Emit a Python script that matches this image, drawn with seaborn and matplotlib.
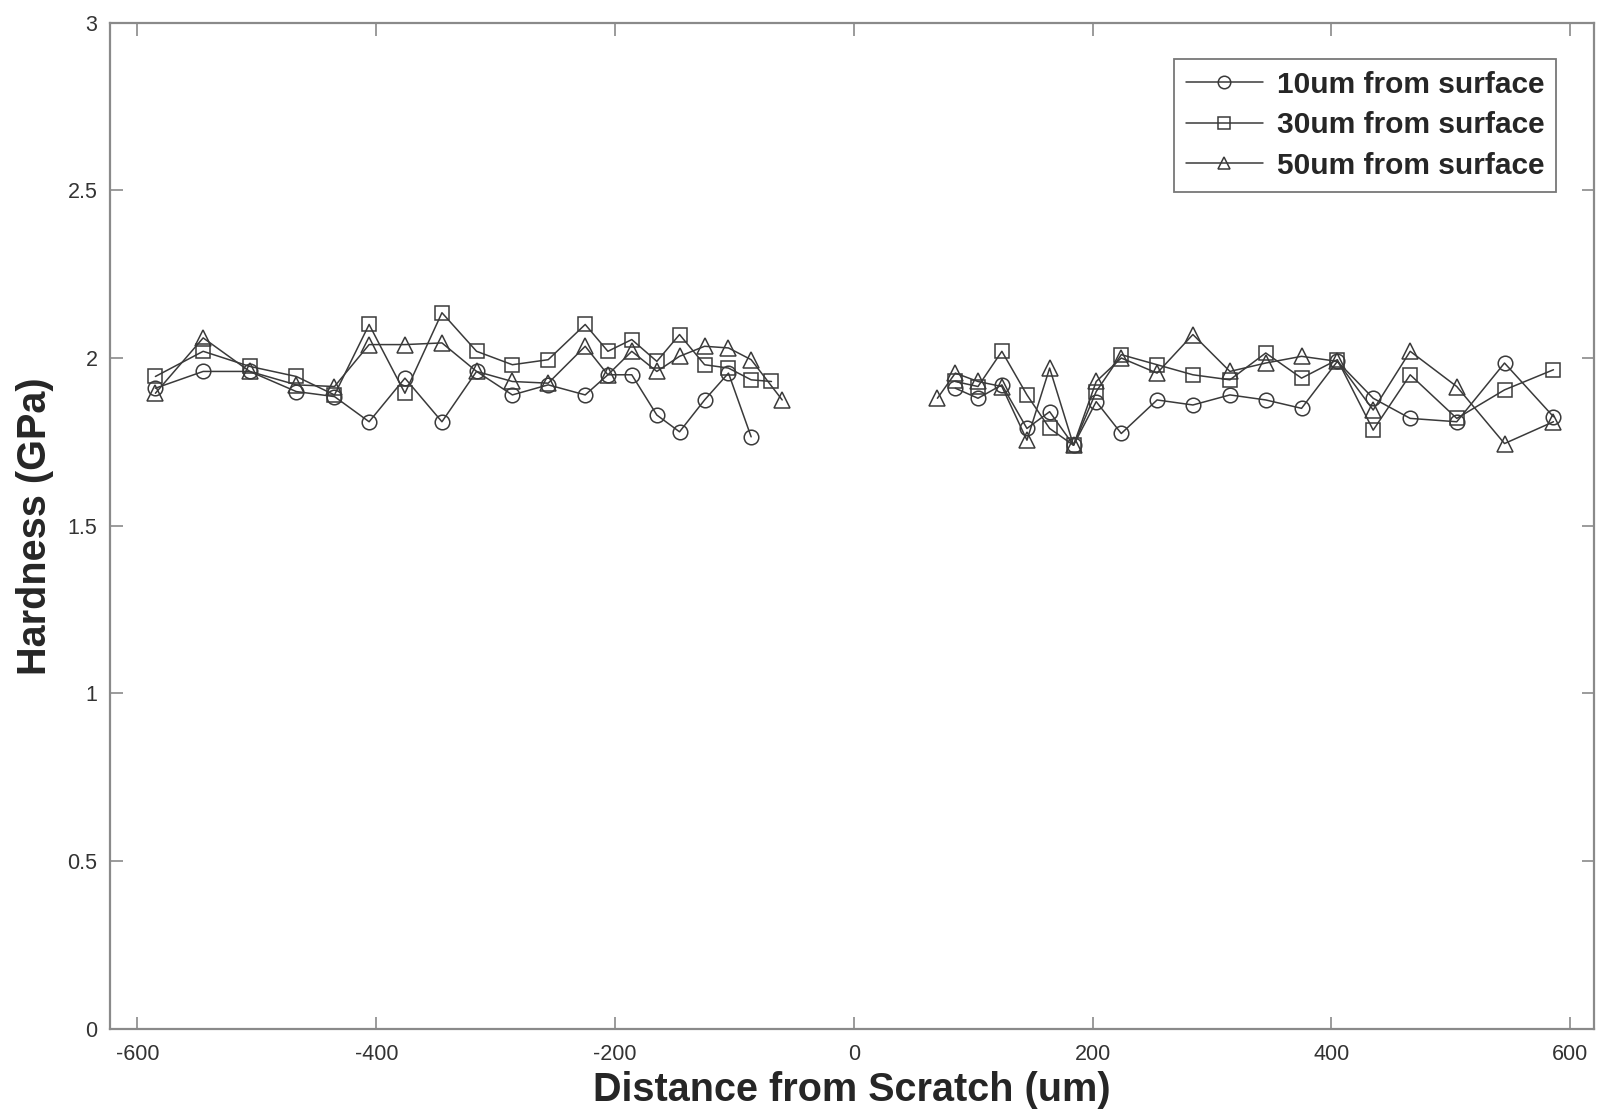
import matplotlib
matplotlib.use("Agg")
import matplotlib.pyplot as plt
import seaborn as sns
import pandas as pd

# ---- data ----
x_left_10 = [-585, -545, -506, -467, -435, -406, -376, -345, -316, -286, -256, -225, -206, -186, -165, -146, -125, -105, -86]
y_left_10 = [1.91, 1.96, 1.96, 1.90, 1.885, 1.81, 1.94, 1.81, 1.96, 1.89, 1.92, 1.89, 1.95, 1.95, 1.83, 1.78, 1.875, 1.955, 1.765]
x_right_10 = [85, 104, 124, 145, 164, 184, 203, 224, 254, 284, 315, 345, 375, 405, 435, 466, 505, 545, 586]
y_right_10 = [1.91, 1.88, 1.92, 1.79, 1.84, 1.74, 1.87, 1.775, 1.875, 1.86, 1.89, 1.875, 1.85, 1.99, 1.88, 1.82, 1.81, 1.985, 1.825]

x_left_30 = [-585, -545, -506, -467, -435, -406, -376, -345, -316, -286, -256, -225, -206, -186, -165, -146, -125, -105, -86, -69]
y_left_30 = [1.945, 2.02, 1.975, 1.945, 1.89, 2.10, 1.895, 2.135, 2.02, 1.98, 1.995, 2.10, 2.02, 2.055, 1.99, 2.07, 1.98, 1.97, 1.935, 1.93]
x_right_30 = [85, 104, 124, 145, 164, 184, 203, 224, 254, 284, 315, 345, 375, 405, 435, 466, 505, 545, 586]
y_right_30 = [1.93, 1.915, 2.02, 1.89, 1.79, 1.74, 1.90, 2.01, 1.98, 1.95, 1.935, 2.015, 1.94, 1.995, 1.785, 1.95, 1.82, 1.905, 1.965]

x_left_50 = [-585, -545, -506, -467, -435, -406, -376, -345, -316, -286, -256, -225, -206, -186, -165, -146, -125, -105, -86, -60]
y_left_50 = [1.895, 2.06, 1.96, 1.92, 1.915, 2.04, 2.04, 2.045, 1.96, 1.93, 1.925, 2.035, 1.95, 2.02, 1.96, 2.005, 2.035, 2.03, 1.995, 1.875]
x_right_50 = [70, 85, 104, 124, 145, 164, 184, 203, 224, 254, 284, 315, 345, 375, 405, 435, 466, 505, 545, 586]
y_right_50 = [1.88, 1.955, 1.93, 1.915, 1.755, 1.97, 1.74, 1.93, 2.0, 1.955, 2.07, 1.96, 1.985, 2.005, 1.99, 1.845, 2.02, 1.915, 1.745, 1.81]

labels = ["10um from surface", "30um from surface", "50um from surface"]
markers = ["o", "s", "^"]
x_ticks = [-600, -400, -200, 0, 200, 400, 600]
y_ticks = [0, 0.5, 1, 1.5, 2, 2.5, 3]
y_tick_labels = ["0", "0.5", "1", "1.5", "2", "2.5", "3"]

series = [
    (x_left_10, y_left_10, x_right_10, y_right_10),
    (x_left_30, y_left_30, x_right_30, y_right_30),
    (x_left_50, y_left_50, x_right_50, y_right_50),
]

sns.set_theme(style="white")
plt.rcParams["font.family"] = ["Liberation Sans", "DejaVu Sans"]

fig = plt.figure(figsize=(16.04, 11.16), dpi=100)
ax = fig.add_axes([0.0686, 0.078, 0.9252, 0.9018])

line_col = "#3a3a3a"
for (xl, yl, xr, yr), lab, mk in zip(series, labels, markers):
    for i, (xs, ys) in enumerate([(xl, yl), (xr, yr)]):
        df = pd.DataFrame({"x": xs, "y": ys})
        sns.lineplot(data=df, x="x", y="y", ax=ax, sort=False, estimator=None,
                     color=line_col, linewidth=1.1, marker=mk,
                     markersize=10.5 if mk != "^" else 11.5,
                     markerfacecolor="none", markeredgecolor=line_col,
                     markeredgewidth=1.1,
                     label=lab if i == 0 else None)

ax.set_xlim(-623, 620)
ax.set_ylim(0, 3)
ax.set_xticks(x_ticks)
ax.set_xticklabels([str(v) for v in x_ticks])
ax.set_yticks(y_ticks)
ax.set_yticklabels(y_tick_labels)

for s in ax.spines.values():
    s.set_color("#8a8a8a")
    s.set_linewidth(1.6)
    s.set_visible(True)

ax.tick_params(axis="both", direction="in", length=9, width=1.2, color="#8a8a8a",
               labelsize=15.5, labelcolor="#333333", top=True, right=True,
               bottom=True, left=True)
ax.tick_params(axis="x", pad=11)
ax.tick_params(axis="y", pad=9)

ax.set_xlabel("Distance from Scratch (um)", fontsize=28.5, fontweight="bold", labelpad=4)
ax.set_ylabel("Hardness (GPa)", fontsize=28.5, fontweight="bold", labelpad=10)

leg = ax.legend(loc="upper right", bbox_to_anchor=(0.9745, 0.964),
                prop={"weight": "bold", "size": 21.5}, frameon=True, fancybox=False,
                edgecolor="#777777", framealpha=1, handlelength=2.6,
                handletextpad=0.45, borderpad=0.4, labelspacing=0.42,
                borderaxespad=0.0)
leg.get_frame().set_linewidth(1.3)
for h in leg.legend_handles:
    h.set_markersize(9)

ax.grid(False)
fig.savefig("out.png", dpi=100, facecolor="white")
